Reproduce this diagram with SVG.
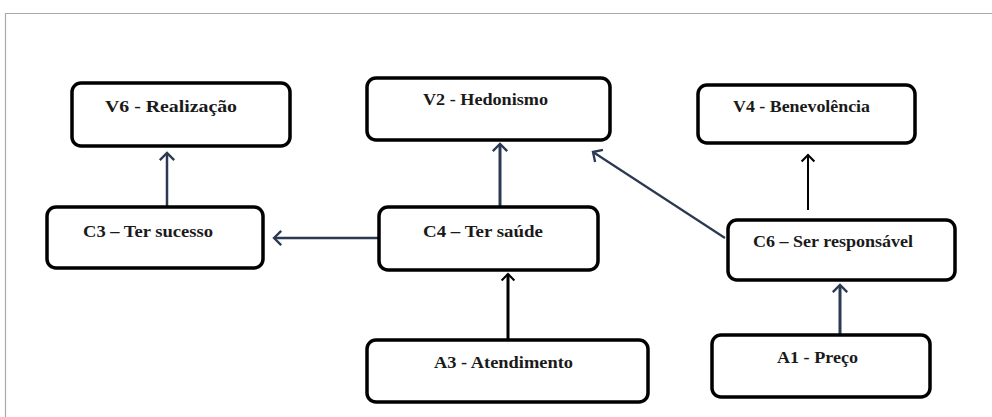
<svg xmlns="http://www.w3.org/2000/svg" width="992" height="417" viewBox="0 0 992 417">
<defs>
<style>
.box{fill:#fff;stroke:#000;stroke-width:3.5}
.t{font-family:"Liberation Serif","Times New Roman",serif;font-weight:bold;font-size:16px;fill:#1a1a1a}
.navy{stroke:#2b3a52;fill:none}
.blk{stroke:#000;fill:none}
</style>
<marker id="an" viewBox="0 0 20 20" refX="10" refY="10" markerWidth="18" markerHeight="18" markerUnits="userSpaceOnUse" orient="auto">
<path d="M2,2 L10,10 L2,18" fill="none" stroke="#2b3a52" stroke-width="2.6"/>
</marker>
<marker id="ab" viewBox="0 0 20 20" refX="10" refY="10" markerWidth="16" markerHeight="16" markerUnits="userSpaceOnUse" orient="auto">
<path d="M2,2 L10,10 L2,18" fill="none" stroke="#000" stroke-width="2.6"/>
</marker>
</defs>
<rect width="992" height="417" fill="#fff"/>
<path d="M992,13.5 H5.5 V417" fill="none" stroke="#aaa" stroke-width="1.2"/>

<g id="connectors">
<line class="navy" x1="167" y1="207" x2="167" y2="153" stroke-width="2.5" marker-end="url(#an)"/>
<line class="navy" x1="379" y1="238" x2="274" y2="238" stroke-width="2.5" marker-end="url(#an)"/>
<line class="navy" x1="500" y1="207" x2="500" y2="144" stroke-width="3" marker-end="url(#an)"/>
<line class="navy" x1="725" y1="238" x2="593" y2="152" stroke-width="2.2" marker-end="url(#an)"/>
<line class="blk" x1="808" y1="210" x2="808" y2="155" stroke-width="2" marker-end="url(#ab)"/>
<line class="blk" x1="508" y1="340" x2="508" y2="274" stroke-width="3" marker-end="url(#ab)"/>
<line class="navy" x1="840" y1="335" x2="840" y2="285" stroke-width="3" marker-end="url(#an)"/>
</g>

<g id="V6">
<rect class="box" x="72" y="83" width="218" height="63" rx="9"/>
<text class="t" x="105" y="112" textLength="132" lengthAdjust="spacingAndGlyphs">V6 - Realização</text>
</g>
<g id="V2">
<rect class="box" x="367" y="78" width="243" height="62" rx="9"/>
<text class="t" x="423" y="105" textLength="125" lengthAdjust="spacingAndGlyphs">V2 - Hedonismo</text>
</g>
<g id="V4">
<rect class="box" x="698" y="85" width="217" height="58" rx="9"/>
<text class="t" x="733" y="112" textLength="137" lengthAdjust="spacingAndGlyphs">V4 - Benevolência</text>
</g>
<g id="C3">
<rect class="box" x="47" y="207" width="216" height="61" rx="9"/>
<text class="t" x="83" y="237" textLength="130" lengthAdjust="spacingAndGlyphs">C3 – Ter sucesso</text>
</g>
<g id="C4">
<rect class="box" x="379" y="207" width="219" height="63" rx="9"/>
<text class="t" x="423" y="237" textLength="120" lengthAdjust="spacingAndGlyphs">C4 – Ter saúde</text>
</g>
<g id="C6">
<rect class="box" x="728" y="220" width="227" height="60" rx="9"/>
<text class="t" x="753" y="247" textLength="160" lengthAdjust="spacingAndGlyphs">C6 – Ser responsável</text>
</g>
<g id="A3">
<rect class="box" x="367" y="340" width="281" height="62" rx="9"/>
<text class="t" x="434" y="368" textLength="139" lengthAdjust="spacingAndGlyphs">A3 - Atendimento</text>
</g>
<g id="A1">
<rect class="box" x="712" y="335" width="218" height="62" rx="9"/>
<text class="t" x="777" y="363" textLength="81" lengthAdjust="spacingAndGlyphs">A1 - Preço</text>
</g>
</svg>
